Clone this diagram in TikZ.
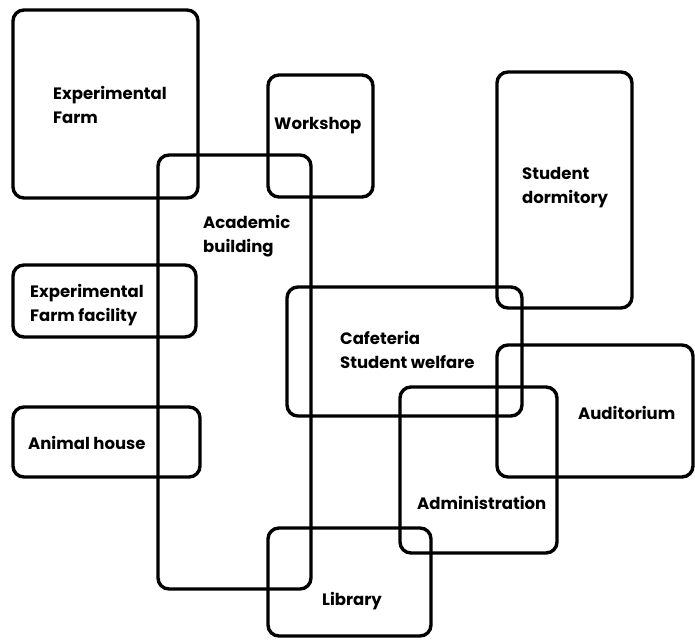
\documentclass[tikz,border=0pt]{standalone}
\usepackage{fontspec}
\setsansfont{Poppins}
\usepackage{tikz}

\tikzset{
	bldg/.style={line width=3.4pt, rounded corners=11pt},
	lbl/.style={anchor=west, align=left, inner sep=0pt, font=\sffamily\bfseries\fontsize{16.5}{24}\selectfont}
}

\begin{document}
\begin{tikzpicture}[x=1pt,y=-1pt]
			\useasboundingbox (0,0) rectangle (695,642);
			\draw[bldg] (13,10) rectangle (198,198);
			\draw[bldg] (268,75) rectangle (373,197);
			\draw[bldg] (158,155) rectangle (311,589);
			\draw[bldg] (497,72) rectangle (632,308);
			\draw[bldg] (13,265) rectangle (196,337);
			\draw[bldg] (287,287) rectangle (522,416);
			\draw[bldg] (497,345) rectangle (693,477);
			\draw[bldg] (400,387) rectangle (557,553);
			\draw[bldg] (13,407) rectangle (200,477);
			\draw[bldg] (268,528) rectangle (431,636);
			
			\node[lbl] (farm) at (53,105) {Experimental\\Farm};
			\node[lbl] (shop) at (274,126) {Workshop};
			\node[lbl] (acad) at (203,236) {Academic\\building};
			\node[lbl] (dorm) at (522,188) {Student\\dormitory};
			\node[lbl] (facil) at (30,305) {Experimental\\Farm facility};
			\node[lbl] (cafe) at (340,350) {Cafeteria\\Student welfare};
			\node[lbl] (audi) at (578,413) {Auditorium};
			\node[lbl] (animal) at (28,443) {Animal house};
			\node[lbl] (admin) at (417,503) {Administration};
			\node[lbl] (lib) at (322,601) {Library};
		\end{tikzpicture}
\end{document}
